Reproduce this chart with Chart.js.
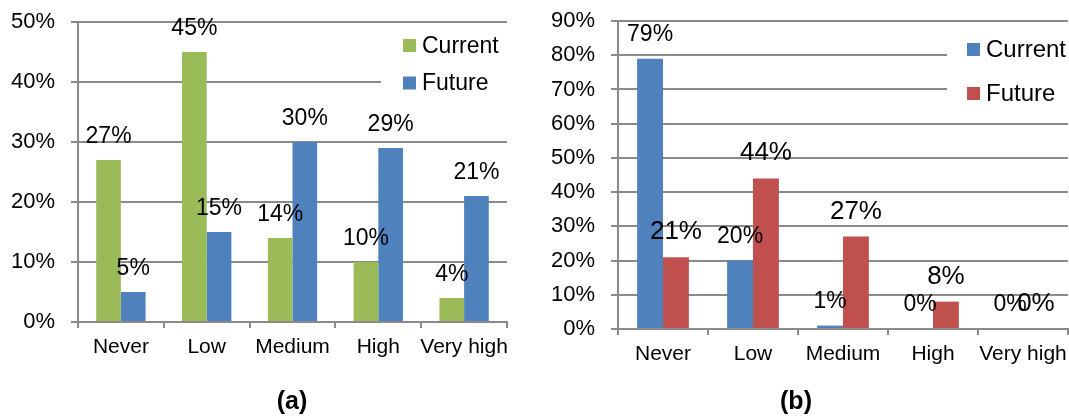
<!DOCTYPE html>
<html>
<head>
<meta charset="utf-8">
<script src="https://cdn.jsdelivr.net/npm/chart.js@4.4.0/dist/chart.umd.min.js"></script>
<style>
    html, body { margin: 0; padding: 0; background: #fff; }
    #wrap { position: relative; width: 1069px; height: 416px; overflow: hidden; }
    .panel { position: absolute; top: 0; height: 416px; }
    .cap { position: absolute; top: 387px; width: 100px; text-align: center; color: #000;
           font: bold 25px "Liberation Sans", Arial, sans-serif; line-height: 26px; }
</style>
</head>
<body>
<div id="wrap">
    <div class="panel" style="left:0;width:530px"><canvas id="chartA"></canvas></div>
    <div class="panel" style="left:530px;width:539px"><canvas id="chartB"></canvas></div>
    <div class="cap" style="left:242px">(a)</div>
    <div class="cap" style="left:746px">(b)</div>
</div>
<script>
//********************************************************************************//
//                            Data
//********************************************************************************//
var levels = ['Never', 'Low', 'Medium', 'High', 'Very high'];
var seriesNames = ['Current', 'Future'];

var currentA = [27, 45, 14, 10, 4];
var futureA = [5, 15, 30, 29, 21];

var currentB = [79, 20, 1, 0, 0];
var futureB = [21, 44, 27, 8, 0];

var yMaxA = 50;
var yMaxB = 90;

var Charts = function () {

    //********************************************************************************//
    //                            Global variables
    //********************************************************************************//
    var FONT = '"Liberation Sans", Arial, sans-serif';
    var GRID = '#8a8a8a';
    var GREEN = '#9bbb59';
    var BLUE = '#4f81bd';
    var RED = '#c0504d';

    // value labels above every bar
    var barValues = {
        id: 'barValues',
        afterDatasetsDraw: function (chart, args, opts) {
            var ctx = chart.ctx;
            ctx.save();
            ctx.fillStyle = '#000';
            ctx.textAlign = 'center';
            ctx.textBaseline = 'alphabetic';
            chart.data.datasets.forEach(function (ds, i) {
                ctx.font = opts.sizes[i] + 'px ' + FONT;
                chart.getDatasetMeta(i).data.forEach(function (bar, j) {
                    ctx.fillText(ds.data[j] + '%', bar.x, bar.y - opts.lift);
                });
            });
            ctx.restore();
        }
    };

    // legend sitting inside the plot, on a white patch over the gridlines
    var insideLegend = {
        id: 'insideLegend',
        afterDatasetsDraw: function (chart, args, opts) {
            var ctx = chart.ctx;
            ctx.save();
            ctx.fillStyle = '#fff';
            ctx.fillRect(opts.box[0], opts.box[1], opts.box[2], opts.box[3]);
            ctx.font = opts.size + 'px ' + FONT;
            ctx.textAlign = 'left';
            ctx.textBaseline = 'middle';
            chart.data.datasets.forEach(function (ds, i) {
                var y = opts.y + i * opts.gap;
                ctx.fillStyle = ds.backgroundColor;
                ctx.fillRect(opts.x, y - 6.5, 13, 13);
                ctx.fillStyle = '#000';
                ctx.fillText(ds.label, opts.x + 19, y + 1);
            });
            ctx.restore();
        }
    };

    var buildScales = function (max, axisWidth, xHeight) {
        return {
            x: {
                grid: { drawOnChartArea: false, drawTicks: true, tickLength: 6, color: GRID, lineWidth: 2 },
                border: { display: true, color: GRID, width: 2 },
                ticks: { color: '#000', font: { size: 21 }, padding: 7, maxRotation: 0, autoSkip: false },
                afterFit: function (scale) {
                    scale.height = xHeight;
                    scale.paddingLeft = 0;
                    scale.paddingRight = 0;
                }
            },
            y: {
                min: 0,
                max: max,
                grid: { color: GRID, lineWidth: 2, tickLength: 7 },
                border: { display: true, color: GRID, width: 2 },
                ticks: {
                    stepSize: 10, color: '#000', font: { size: 22 }, padding: 16,
                    callback: function (v) { return v + '%'; }
                },
                afterFit: function (scale) {
                    scale.width = axisWidth;
                    scale.paddingTop = 0;
                    scale.paddingBottom = 0;
                }
            }
        };
    };

    var buildChart = function (id, cur, fut, colors, max, axisWidth, xHeight, pad, labelSizes, lift, legendOpts) {
        return new Chart(document.getElementById(id), {
            type: 'bar',
            data: {
                labels: levels,
                datasets: [
                    { label: seriesNames[0], data: cur, backgroundColor: colors[0], borderWidth: 0 },
                    { label: seriesNames[1], data: fut, backgroundColor: colors[1], borderWidth: 0 }
                ]
            },
            options: {
                responsive: true,
                maintainAspectRatio: false,
                animation: false,
                categoryPercentage: 0.575,
                barPercentage: 1.0,
                layout: { padding: pad },
                scales: buildScales(max, axisWidth, xHeight),
                plugins: {
                    legend: { display: false },
                    tooltip: { enabled: false },
                    barValues: { sizes: labelSizes, lift: lift },
                    insideLegend: legendOpts
                }
            },
            plugins: [barValues, insideLegend]
        });
    };

    //********************************************************************************//
    //                            Initializations
    //********************************************************************************//
    var initCharts = function () {
        Chart.defaults.font.family = FONT;
        Chart.defaults.color = '#000';

        buildChart('chartA', currentA, futureA, [GREEN, BLUE], yMaxA, 78, 94,
            { top: 22, right: 23, left: 0, bottom: 0 }, [23, 23], 17,
            { box: [381, 30, 130, 76], x: 403, y: 45.5, gap: 37.5, size: 23 });

        buildChart('chartB', currentB, futureB, [BLUE, RED], yMaxB, 88, 87,
            { top: 21, right: 1, left: 0, bottom: 0 }, [23, 26], 18,
            { box: [417, 30, 125, 84], x: 437, y: 49.5, gap: 44, size: 24 });
    };

    return {
        init: function () {
            initCharts();
        }
    };
}();

window.addEventListener('load', function () {
    Charts.init();
});
</script>
</body>
</html>
